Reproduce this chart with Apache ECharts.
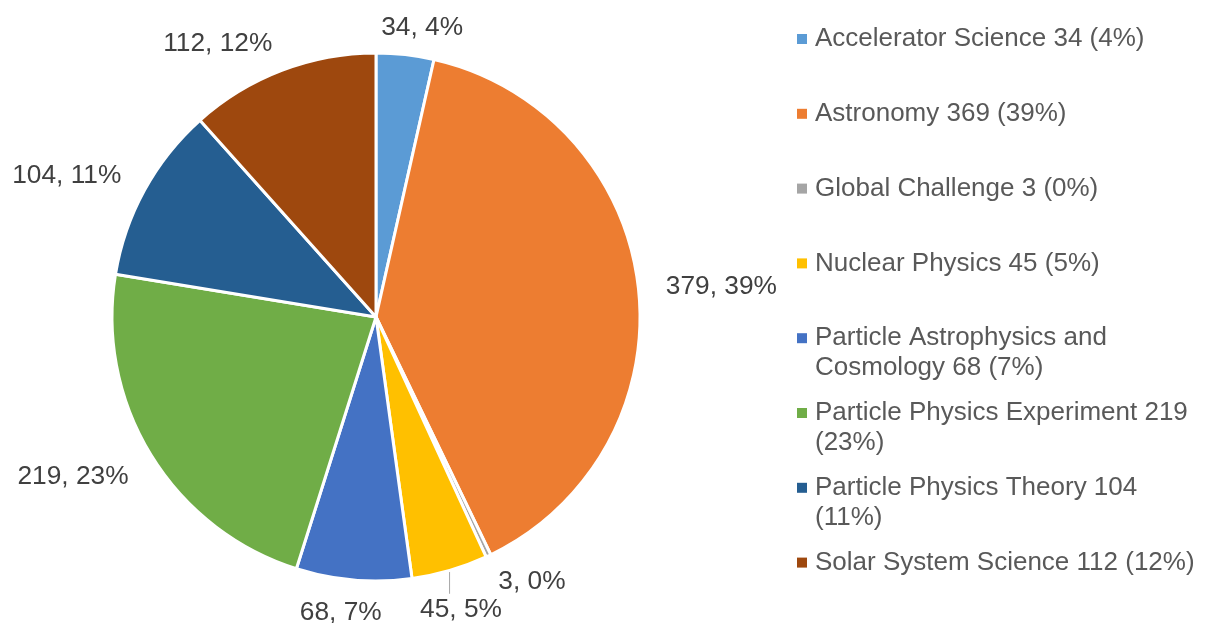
<!DOCTYPE html>
<html><head><meta charset="utf-8">
<script src="https://cdn.jsdelivr.net/npm/echarts@6/dist/echarts.min.js"></script>
<style>html,body{margin:0;padding:0;background:#fff}#c{width:1213px;height:623px}</style>
</head><body><div id="c"></div>
<script>
// ---- data ----
const categories = ['Accelerator Science','Astronomy','Global Challenge','Nuclear Physics','Particle Astrophysics and Cosmology','Particle Physics Experiment','Particle Physics Theory','Solar System Science'];
const values = [34, 379, 3, 45, 68, 219, 104, 112];
const legendLabels = ['Accelerator Science 34 (4%)','Astronomy 369 (39%)','Global Challenge 3 (0%)','Nuclear Physics 45 (5%)','Particle Astrophysics and\nCosmology 68 (7%)','Particle Physics Experiment 219\n(23%)','Particle Physics Theory 104\n(11%)','Solar System Science 112 (12%)'];

// ---- styles / layout ----
const palette = ['#5B9BD5','#ED7D31','#A5A5A5','#FFC000','#4472C4','#70AD47','#255E91','#9E480E'];
const FONT = '"Liberation Sans", Arial, sans-serif';
const FS = 26, LABEL_FS = 26.3, LABEL_LH = 26;
const CX = 376, CY = 317, R = 264;

const total = values.reduce((a,b)=>a+b,0);
const pct = v => Math.round(v/total*100);
const labelText = i => values[i] + ', ' + pct(values[i]) + '%';

// outside-end label placement (computed from the slice angles)
const ctx = document.createElement('canvas').getContext('2d');
ctx.font = LABEL_FS + 'px ' + FONT;
let cum = 0;
const boxes = values.map((v,i)=>{
  const mid = (cum + v/2)/total*2*Math.PI; cum += v;
  const dx = Math.sin(mid), dy = -Math.cos(mid);
  const m = Math.max(Math.abs(dx), Math.abs(dy));
  const sx = Math.max(-1.05, Math.min(1.05, 3.3*dx));
  const sy = dy/m;
  const w = ctx.measureText(labelText(i)).width, h = LABEL_LH;
  const D = R + 18 + 7*dx*dx;
  return {w, h, dx,
    x: CX + D*dx + w/2*sx,
    y: CY + D*dy + h/2*sy + 2 + (dy < 0 ? 2 : 0),
    ex: CX + (R-1)*dx, ey: CY + (R-1)*dy, leader:false};
});
for (let i=1;i<boxes.length;i++){
  const a = boxes[i-1], b = boxes[i];
  const ox = Math.min(a.x+a.w/2, b.x+b.w/2) - Math.max(a.x-a.w/2, b.x-b.w/2);
  const oy = Math.min(a.y+a.h/2, b.y+b.h/2) - Math.max(a.y-a.h/2, b.y-b.h/2);
  if (ox>0 && oy>0){
    const shift = (oy+2)/2;
    if (b.y >= a.y){ a.y -= shift; b.y += shift; } else { a.y += shift; b.y -= shift; }
    b.leader = true;
    b.x = b.ex + b.w/2*b.dx;
  }
}

const seriesData = categories.map((name,i)=>({
  name, value: values[i],
  labelLine: {show: boxes[i].leader}
}));

const legends = categories.map((name,i)=>{
  const two = legendLabels[i].indexOf('\n') >= 0;
  const yc = 39 + i*74.8;
  return {
    orient:'vertical', left: 797, top: two ? yc - 45 : yc - 15,
    padding: 0, itemWidth: 10, itemHeight: 10, icon: 'rect', selectedMode: false,
    itemStyle: {borderWidth: 0},
    data: [name],
    formatter: n => { const t = legendLabels[categories.indexOf(n)]; return t.indexOf('\n') >= 0 ? '\n' + t : t; },
    textStyle: {fontFamily: FONT, fontSize: FS, color:'#595959', lineHeight: 30, padding: [0,0,0,3]}
  };
});

const chart = echarts.init(document.getElementById('c'), null, {renderer:'canvas'});
chart.setOption({
  animation: false,
  color: palette,
  legend: legends,
  series: [{
    type: 'pie',
    center: [CX, CY], radius: R,
    startAngle: 90, clockwise: true,
    avoidLabelOverlap: false,
    itemStyle: {borderColor:'#fff', borderWidth: 3},
    label: {
      show: true, position: 'outside',
      formatter: p => labelText(p.dataIndex),
      fontFamily: FONT, fontSize: LABEL_FS, color: '#404040', lineHeight: LABEL_LH
    },
    labelLine: {show: false, lineStyle: {color:'#A6A6A6', width: 1}},
    labelLayout: p => {
      const b = boxes[p.dataIndex];
      const r = {x: b.x, y: b.y, align:'center', verticalAlign:'middle'};
      if (b.leader) r.labelLinePoints = [[b.ex, b.ey],[b.ex, b.ey+1],[b.ex, b.y - b.h/2 - 3]];
      return r;
    },
    emphasis: {disabled: true},
    data: seriesData
  }]
});
</script></body></html>
